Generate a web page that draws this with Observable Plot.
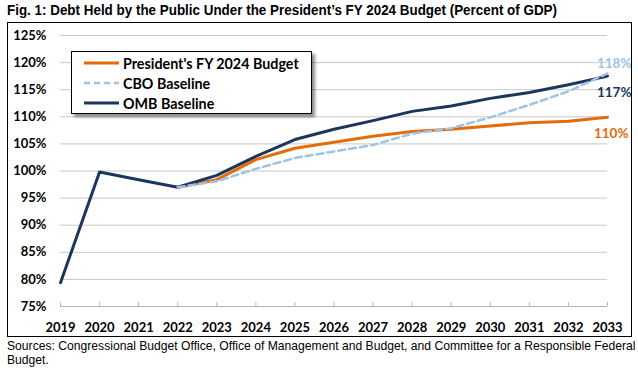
<!DOCTYPE html>
<html>
<head>
<meta charset="utf-8">
<script src="https://cdn.jsdelivr.net/npm/d3@7"></script>
<script src="https://cdn.jsdelivr.net/npm/@observablehq/plot@0.6"></script>
<style>
  html, body { margin: 0; padding: 0; background: #fff; }
  #wrap { position: relative; width: 638px; height: 372px; overflow: hidden; }
  #title { position: absolute; left: 7px; top: 2px; font-family: "Liberation Sans Narrow", "Arial Narrow", "Liberation Sans", sans-serif; font-weight: bold; font-size: 14.5px; color: #000; white-space: nowrap; transform: scaleX(0.925); transform-origin: 0 0; }
  #box { position: absolute; left: 7px; top: 22px; width: 623px; height: 313px; border: 1px solid #000; }
  #box > svg { position: absolute; left: 0; top: 0; }
  #legend { position: absolute; left: 63px; top: 28px; width: 239px; height: 61px; border: 1px solid #000; background: #fff; box-shadow: 3px 3px 3px rgba(0,0,0,0.45); font-family: Lato, sans-serif; font-weight: bold; font-size: 14.3px; }
  .item { position: absolute; left: 12px; height: 20px; display: flex; align-items: center; white-space: nowrap; }
  .item svg { margin-right: 4px; display: block; }
  #caption { position: absolute; left: 7px; top: 339px; width: 631px; font-family: "Liberation Sans", Arial, sans-serif; font-size: 12.15px; line-height: 14px; color: #000; }
</style>
</head>
<body>
<div id="wrap">
  <div id="title">Fig. 1: Debt Held by the Public Under the President’s FY 2024 Budget (Percent of GDP)</div>
  <div id="box"><div id="legend"></div></div>
  <div id="caption">Sources: Congressional Budget Office, Office of Management and Budget, and Committee for a Responsible Federal Budget.</div>
</div>
<script>
const years = [2019, 2020, 2021, 2022, 2023, 2024, 2025, 2026, 2027, 2028, 2029, 2030, 2031, 2032, 2033];
const ombValues = [79.4, 99.8, 98.4, 97.0, 99.2, 102.7, 105.8, 107.7, 109.3, 111.0, 112.0, 113.4, 114.5, 115.9, 117.5];
const projYears = [2022, 2023, 2024, 2025, 2026, 2027, 2028, 2029, 2030, 2031, 2032, 2033];
const presValues = [97.0, 98.4, 102.1, 104.2, 105.3, 106.4, 107.3, 107.7, 108.3, 108.9, 109.2, 109.9];
const cboValues = [97.0, 98.1, 100.4, 102.4, 103.6, 104.8, 106.9, 107.9, 109.9, 112.2, 114.7, 118.0];
const yTicks = [75, 80, 85, 90, 95, 100, 105, 110, 115, 120, 125];
const seriesNames = ["President's FY 2024 Budget", "CBO Baseline", "OMB Baseline"];
const endLabels = ["110%", "118%", "117%"];

const colors = { pres: "#E46C0A", cbo: "#9DC3E6", omb: "#1B365D" };

const omb = years.map((x, i) => ({ x, y: ombValues[i] }));
const pres = projYears.map((x, i) => ({ x, y: presValues[i] }));
const cbo = projYears.map((x, i) => ({ x, y: cboValues[i] }));
const last = a => [a[a.length - 1]];

const W = 623, H = 313, mT = 12, mB = 30;
const chart = Plot.plot({
  width: W, height: H,
  marginLeft: 52, marginRight: 24, marginTop: mT, marginBottom: mB,
  style: { fontFamily: "Lato, sans-serif", fontWeight: "bold", fontSize: "13px", color: "#000", background: "transparent" },
  x: { domain: [2019, 2033], label: null },
  y: { domain: [75, 125], label: null },
  marks: [
    Plot.ruleY(yTicks.filter(d => d > 75), { stroke: "#c8c8c8", strokeWidth: 1 }),
    Plot.ruleY([75], { stroke: "#b4b4b4", strokeWidth: 1 }),
    Plot.ruleX(years, { x: d => d, stroke: "#b4b4b4", insetTop: H - mT - mB - 4 }),
    Plot.axisY({ ticks: yTicks, tickFormat: d => d + "%", tickSize: 0, tickPadding: 14, fill: "#000", label: null }),
    Plot.axisX({ ticks: years, tickFormat: d => String(d), tickSize: 0, tickPadding: 16, fill: "#000", label: null }),
    Plot.line(pres, { x: "x", y: "y", stroke: colors.pres, strokeWidth: 3 }),
    Plot.line(omb, { x: "x", y: "y", stroke: colors.omb, strokeWidth: 3 }),
    Plot.line(cbo, { x: "x", y: "y", stroke: colors.cbo, strokeWidth: 2.5, strokeDasharray: "7,4" }),
    Plot.text(last(pres), { x: "x", y: "y", text: () => endLabels[0], fill: colors.pres, textAnchor: "end", dx: 21, dy: 16, fontSize: 13.5, fontWeight: "bold" }),
    Plot.text(last(cbo), { x: "x", y: "y", text: () => endLabels[1], fill: colors.cbo, textAnchor: "end", dx: 24, dy: -10, fontSize: 13.5, fontWeight: "bold" }),
    Plot.text(last(omb), { x: "x", y: "y", text: () => endLabels[2], fill: colors.omb, textAnchor: "end", dx: 24, dy: 17, fontSize: 13.5, fontWeight: "bold" })
  ]
});
document.getElementById("box").prepend(chart);

const legend = document.getElementById("legend");
const legendStyles = [
  { c: colors.pres, w: 3, dash: null },
  { c: colors.cbo, w: 2.5, dash: "6,4" },
  { c: colors.omb, w: 3, dash: null }
];
seriesNames.forEach((name, i) => {
  const it = document.createElement("div");
  it.className = "item";
  it.style.top = (1 + i * 20) + "px";
  const s = legendStyles[i];
  it.innerHTML = `<svg width="35" height="6"><line x1="0" x2="35" y1="3" y2="3" stroke="${s.c}" stroke-width="${s.w}" ${s.dash ? `stroke-dasharray="${s.dash}"` : ""}/></svg><span>${name}</span>`;
  legend.appendChild(it);
});
</script>
</body>
</html>
